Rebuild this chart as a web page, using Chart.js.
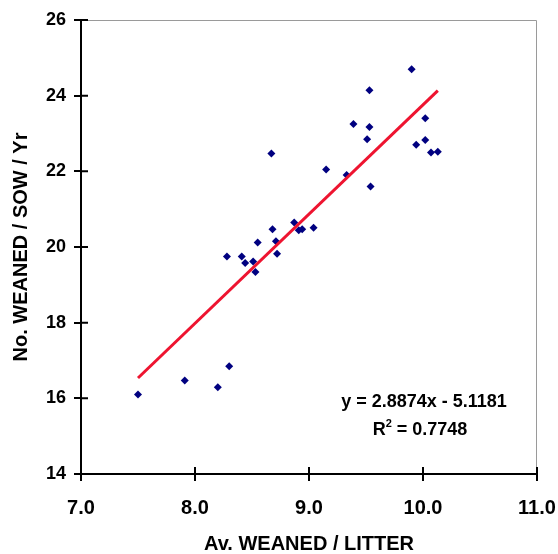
<!DOCTYPE html>
<html>
<head>
<meta charset="utf-8">
<script src="https://cdn.jsdelivr.net/npm/chart.js@4"></script>
<style>
  body { margin: 0; background: #fff; }
  #wrap { width: 558px; height: 554px; }
</style>
</head>
<body>
<div id="wrap"><canvas id="scatterChart"></canvas></div>
<script>
// Data
const weanedPerLitter = [7.50, 7.91, 8.20, 8.30, 8.28, 8.41, 8.44, 8.51, 8.53, 8.55,
    8.67, 8.68, 8.71, 8.72, 8.87, 8.91, 8.94, 9.04, 9.15, 9.33,
    9.39, 9.51, 9.53, 9.53, 9.54, 9.90, 9.94, 10.02, 10.02, 10.07, 10.13];
const weanedPerSow = [16.10, 16.47, 16.29, 16.85, 19.75, 19.75, 19.58, 19.62, 19.34, 20.12,
    22.47, 20.47, 20.15, 19.82, 20.65, 20.44, 20.47, 20.51, 22.05, 21.90,
    23.25, 22.85, 23.17, 24.14, 21.60, 24.70, 22.70, 23.40, 22.83, 22.50, 22.52];
const xTickValues = [7, 8, 9, 10, 11];
const yTickValues = [14, 16, 18, 20, 22, 24, 26];
const slope = 2.8874;
const intercept = -5.1181;
const rSquared = 0.7748;

const xMin = Math.min(...weanedPerLitter);
const xMax = Math.max(...weanedPerLitter);
const trend = [xMin, xMax].map(x => ({ x: x, y: slope * x + intercept }));

Chart.defaults.font.family = "'Liberation Sans', Arial, sans-serif";
Chart.defaults.color = '#000';

// grey frame on top/right, inner half of the tick marks, equation text
const framePlugin = {
    id: 'frame',
    beforeDatasetsDraw(chart) {
        const { ctx, chartArea: a, scales } = chart;
        ctx.save();
        ctx.strokeStyle = '#9a9a9a';
        ctx.lineWidth = 1;
        ctx.beginPath();
        ctx.moveTo(a.left, a.top + 0.5);
        ctx.lineTo(a.right - 0.5, a.top + 0.5);
        ctx.lineTo(a.right - 0.5, a.bottom);
        ctx.stroke();
        ctx.strokeStyle = '#000';
        ctx.lineWidth = 2;
        ctx.beginPath();
        scales.x.ticks.forEach((t, i) => {
            const px = scales.x.getPixelForTick(i);
            ctx.moveTo(px, a.bottom);
            ctx.lineTo(px, a.bottom - 7);
        });
        scales.y.ticks.forEach((t, i) => {
            const py = scales.y.getPixelForTick(i);
            ctx.moveTo(a.left, py);
            ctx.lineTo(a.left + 7, py);
        });
        ctx.stroke();
        ctx.restore();
    },
    afterDraw(chart) {
        const { ctx, chartArea: a } = chart;
        const cx = a.right - 113;
        ctx.save();
        ctx.fillStyle = '#000';
        ctx.font = "bold 18px 'Liberation Sans', Arial, sans-serif";
        ctx.textAlign = 'center';
        ctx.textBaseline = 'alphabetic';
        ctx.fillText('y = ' + slope + 'x - ' + Math.abs(intercept), cx, a.top + 387);
        // R² with superscript
        const left = 'R', right = ' = ' + rSquared;
        const wL = ctx.measureText(left).width;
        const wR = ctx.measureText(right).width;
        ctx.font = "bold 11px 'Liberation Sans', Arial, sans-serif";
        const wS = ctx.measureText('2').width;
        let sx = cx - (wL + wS + wR) / 2 - 4;
        const base = a.top + 415;
        ctx.textAlign = 'left';
        ctx.font = "bold 18px 'Liberation Sans', Arial, sans-serif";
        ctx.fillText(left, sx, base);
        ctx.font = "bold 11px 'Liberation Sans', Arial, sans-serif";
        ctx.fillText('2', sx + wL, base - 8);
        ctx.font = "bold 18px 'Liberation Sans', Arial, sans-serif";
        ctx.fillText(right, sx + wL + wS, base);
        ctx.restore();
    }
};

const ctx = document.getElementById('scatterChart').getContext('2d');
new Chart(ctx, {
    type: 'scatter',
    data: {
        datasets: [{
            type: 'line',
            data: trend,
            borderColor: '#ee1430',
            borderWidth: 3,
            pointRadius: 0,
            fill: false,
            order: 0
        }, {
            data: weanedPerLitter.map((x, i) => ({ x: x, y: weanedPerSow[i] })),
            backgroundColor: '#000080',
            borderColor: '#000080',
            borderWidth: 0,
            pointStyle: 'rectRot',
            pointRadius: 4,
            order: 1
        }]
    },
    options: {
        responsive: true,
        maintainAspectRatio: false,
        animation: false,
        layout: { padding: { left: 11, top: 20, right: 21, bottom: 0 } },
        plugins: { legend: { display: false }, tooltip: { enabled: false } },
        scales: {
            x: {
                type: 'linear',
                min: 7,
                max: 11,
                afterBuildTicks: s => { s.ticks = xTickValues.map(v => ({ value: v })); },
                afterFit: s => { s.height = 80; s.paddingLeft = 0; s.paddingRight = 0; },
                grid: { drawOnChartArea: false, color: '#000', lineWidth: 2, tickLength: 7 },
                border: { color: '#000', width: 2 },
                ticks: {
                    font: { size: 20, weight: 'bold' },
                    padding: 15,
                    maxRotation: 0,
                    callback: v => v.toFixed(1)
                },
                title: {
                    display: true,
                    text: 'Av. WEANED / LITTER',
                    font: { size: 20, weight: 'bold', lineHeight: 1 },
                    padding: 0
                }
            },
            y: {
                min: 14,
                max: 26,
                afterBuildTicks: s => { s.ticks = yTickValues.map(v => ({ value: v })); },
                afterFit: s => { s.width = 70; s.paddingTop = 0; s.paddingBottom = 0; },
                grid: { drawOnChartArea: false, color: '#000', lineWidth: 2, tickLength: 7 },
                border: { color: '#000', width: 2 },
                ticks: {
                    font: { size: 18, weight: 'bold' },
                    padding: 8
                },
                title: {
                    display: true,
                    text: 'No. WEANED / SOW / Yr',
                    font: { size: 20, weight: 'bold', lineHeight: 1 },
                    padding: 0
                }
            }
        }
    },
    plugins: [framePlugin]
});
</script>
</body>
</html>
